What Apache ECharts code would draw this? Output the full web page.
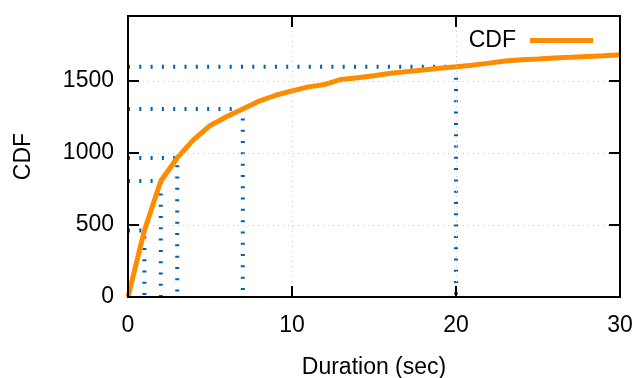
<!DOCTYPE html>
<html><head><meta charset="utf-8">
<script src="https://cdn.jsdelivr.net/npm/echarts@6/dist/echarts.min.js"></script>
<style>html,body{margin:0;padding:0;background:#fff}#c{width:636px;height:378px}</style>
</head><body><div id="c"></div>
<script>
const durations = [0,1,2,3,4,5,6,7,8,9,10,11,12,13,14,15,16,17,18,19,20,21,22,23,24,25,26,27,28,29,30];
const cdfValues = [0,462,805,965,1092,1189,1251,1305,1360,1400,1430,1458,1475,1510,1522,1535,1553,1564,1575,1588,1598,1609,1623,1638,1646,1651,1658,1663,1669,1674,1681];
const markedDurations = [1,2,3,7,20];
const xTicks = [0,10,20,30];
const yTicks = [0,500,1000,1500];

const FONT = 'Liberation Sans, Arial, sans-serif';
const BLUE = '#0060ad';
const ORANGE = '#ff8c00';

const guideSeries = markedDurations.map(d => {
  const v = cdfValues[durations.indexOf(d)];
  return {
    type: 'line', name: 'guide' + d, silent: true, symbol: 'none', z: 1,
    data: [[0, v], [d, v], [d, 0]],
    lineStyle: { color: BLUE, width: 4, type: [2, 9.3] }
  };
});

function axLine() {
  return { show: true, onZero: false, lineStyle: { color: '#000000', width: 2 } };
}
function axTick() {
  return { show: true, inside: true, length: 11, lineStyle: { color: '#000000', width: 2 } };
}

const chart = echarts.init(document.getElementById('c'));
chart.setOption({
  animation: false,
  grid: { left: 128, right: 16, top: 16, bottom: 81, containLabel: false, outerBoundsMode: 'none',
    show: true, borderColor: '#000000', borderWidth: 2, z: 5 },
  legend: {
    data: ['CDF'], right: 43, top: 29, padding: 0, align: 'right',
    icon: 'rect', itemWidth: 63, itemHeight: 5,
    textStyle: { fontFamily: FONT, fontSize: 23, color: '#000', padding: [0, 9, 0, 0] }
  },
  xAxis: [{
    type: 'value', min: 0, max: 30, interval: 10, position: 'bottom', z: 10,
    axisLine: axLine(), axisTick: axTick(),
    axisLabel: { fontFamily: FONT, fontSize: 23, color: '#000', margin: 17,
      formatter: v => xTicks.includes(v) ? String(v) : '' },
    splitLine: { show: true, lineStyle: { color: '#cccccc', type: [1, 4], width: 1 } },
    name: 'Duration (sec)', nameLocation: 'middle', nameGap: 59,
    nameTextStyle: { fontFamily: FONT, fontSize: 23, color: '#000' }
  }, {
    type: 'value', min: 0, max: 30, interval: 10, position: 'top', z: 10,
    axisLine: axLine(), axisTick: axTick(),
    axisLabel: { show: false }, splitLine: { show: false }
  }],
  yAxis: [{
    type: 'value', min: 0, max: 1950, interval: 500, position: 'left', z: 10,
    axisLine: axLine(), axisTick: axTick(),
    axisLabel: { fontFamily: FONT, fontSize: 23, color: '#000', margin: 14,
      formatter: v => yTicks.includes(v) ? String(v) : '' },
    splitLine: { show: true, lineStyle: { color: '#cccccc', type: [1, 4], width: 1 } },
    name: 'CDF', nameLocation: 'middle', nameGap: 93,
    nameTextStyle: { fontFamily: FONT, fontSize: 23, color: '#000' }
  }, {
    type: 'value', min: 0, max: 1950, interval: 500, position: 'right', z: 10,
    axisLine: axLine(), axisTick: axTick(),
    axisLabel: { show: false }, splitLine: { show: false }
  }],
  series: [
    ...guideSeries,
    {
      type: 'line', name: 'CDF', symbol: 'none', z: 3,
      data: durations.map((d, i) => [d, cdfValues[i]]),
      lineStyle: { color: ORANGE, width: 5 }, itemStyle: { color: ORANGE }
    }
  ]
});
</script></body></html>
